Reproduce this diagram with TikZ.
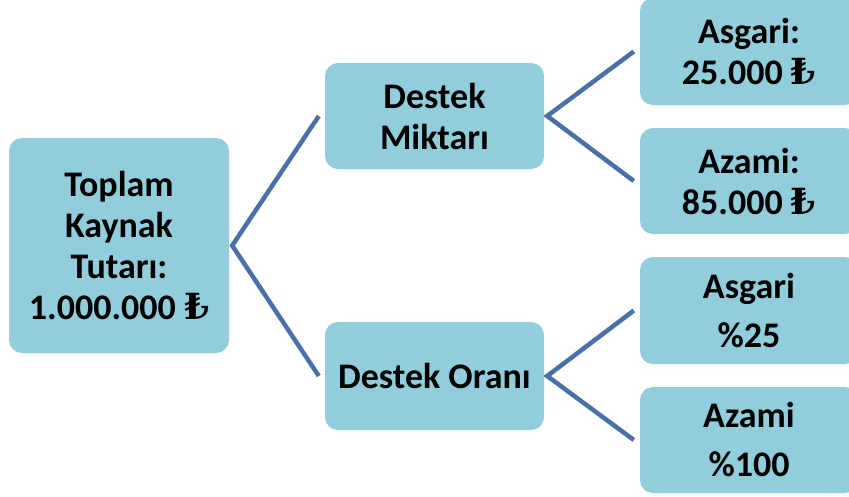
\documentclass[tikz,border=0pt]{standalone}
\usepackage{fontspec}
\setmainfont{Carlito}
\newfontfamily\lira{DejaVu Serif}
\definecolor{boxfill}{HTML}{92CDDC}
\definecolor{linkcol}{HTML}{4A70A8}
\tikzset{
  box/.style={rectangle, rounded corners=13pt, fill=boxfill, draw=none,
    align=center, inner sep=0pt, font=\bfseries\fontsize{36}{41}\selectfont},
  link/.style={draw=linkcol, line width=4.5pt}
}
\newcommand{\TL}{{\lira\bfseries ₺}}
\begin{document}
\begin{tikzpicture}[x=1pt,y=-1pt]
\useasboundingbox (0,0) rectangle (849,496);
\fill[white] (0,0) rectangle (849,496);
\node[box, minimum width=220pt, minimum height=215pt] (tot) at (119,245.5) {Toplam\\Kaynak\\Tutarı:\\1.000.000 \TL};
\node[box, minimum width=219pt, minimum height=106pt] (mik) at (434.5,116) {Destek\\Miktarı};
\node[box, minimum width=219pt, minimum height=108pt] (oran) at (434.5,376) {Destek Oranı};
\node[box, minimum width=218pt, minimum height=107pt] (r1) at (749,51.5) {Asgari:\\25.000 \TL};
\node[box, minimum width=218pt, minimum height=106pt] (r2) at (749,181) {Azami:\\85.000 \TL};
\node[box, minimum width=218pt, minimum height=107pt] (r3) at (749,310.5) {Asgari\\[8pt]\%25};
\node[box, minimum width=218pt, minimum height=106pt] (r4) at (749,440) {Azami\\[8pt]\%100};
\draw[link] ([xshift=-6pt]mik.west) -- ([xshift=3pt]tot.east) -- ([xshift=-6pt]oran.west);
\draw[link] ([xshift=-6pt]r1.west) -- ([xshift=3pt]mik.east) -- ([xshift=-6pt]r2.west);
\draw[link] ([xshift=-6pt]r3.west) -- ([xshift=3pt]oran.east) -- ([xshift=-6pt]r4.west);
\end{tikzpicture}
\end{document}
